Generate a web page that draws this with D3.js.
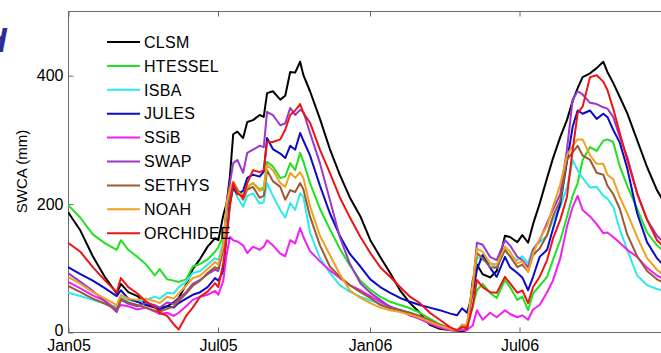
<!DOCTYPE html>
<html>
<head>
<meta charset="utf-8">
<script src="https://cdn.jsdelivr.net/npm/d3@7"></script>
<style>
  body { margin: 0; background: #fff; }
  svg { display: block; }
  text { font-family: "Liberation Sans", Arial, Helvetica, sans-serif; }
</style>
</head>
<body>
<svg id="chart" width="661" height="353"></svg>
<script>
// Sampling dates of the soil water content series
const dates = [
  "2005-01-01","2005-01-16","2005-01-31","2005-02-15","2005-03-01","2005-03-06","2005-03-15","2005-03-26","2005-04-05","2005-04-16",
  "2005-04-22","2005-05-01","2005-05-09","2005-05-15","2005-05-24","2005-06-01","2005-06-10","2005-06-19","2005-06-28","2005-07-02",
  "2005-07-08","2005-07-12","2005-07-16","2005-07-20","2005-07-25","2005-08-01","2005-08-06","2005-08-13","2005-08-21","2005-08-26",
  "2005-08-30","2005-09-06","2005-09-15","2005-09-21","2005-09-27","2005-10-03","2005-10-09","2005-10-13","2005-10-21","2005-11-02",
  "2005-11-14","2005-11-26","2005-12-08","2005-12-21","2006-01-02","2006-01-14","2006-01-26","2006-02-07","2006-02-19","2006-03-03",
  "2006-03-15","2006-03-27","2006-04-08","2006-04-17","2006-04-23","2006-04-29","2006-05-06","2006-05-11","2006-05-18","2006-05-27",
  "2006-06-04","2006-06-14","2006-06-20","2006-06-29","2006-07-05","2006-07-12","2006-07-18","2006-07-26","2006-08-04","2006-08-11",
  "2006-08-20","2006-08-28","2006-09-04","2006-09-10","2006-09-16","2006-09-25","2006-10-03","2006-10-11","2006-10-16","2006-10-23",
  "2006-10-31","2006-11-09","2006-11-21","2006-12-03","2006-12-15","2006-12-27"
];

// SWCA (mm) per land surface model
const CLSM = [
  187,158,118,85,60,75,62,56,44,39,
  37,40,46,53,74,98,114,133,146,143,
  182,200,242,308,312,302,327,330,338,335,
  372,375,362,368,405,404,421,400,375,332,
  285,245,210,180,143,117,92,65,45,30,
  11,5,3,2,1,3,80,105,90,85,
  95,150,148,140,151,139,168,200,240,270,
  304,330,360,380,397,403,411,421,405,388,
  366,341,299,257,221,195
];
const HTESSEL = [
  198,178,152,138,128,143,128,117,106,88,
  98,82,80,78,82,102,106,113,125,132,
  150,185,206,225,221,213,225,232,222,225,
  265,258,240,242,263,252,279,265,232,192,
  160,130,104,80,66,55,47,42,37,30,
  21,12,6,2,8,12,40,65,75,61,
  53,81,70,50,55,34,60,72,86,112,
  143,179,213,232,268,288,282,298,300,296,
  258,228,192,155,135,122
];
const ISBA = [
  61,56,50,44,39,55,50,47,50,55,
  52,61,60,70,78,92,95,105,115,112,
  140,190,215,226,210,195,212,216,200,202,
  232,212,190,178,201,190,216,210,155,115,
  92,73,63,55,49,44,39,35,30,23,
  16,9,5,2,12,8,60,117,112,107,
  100,128,118,112,118,107,130,140,150,175,
  195,225,268,252,240,225,226,212,208,195,
  160,128,88,73,67,63
];
const JULES = [
  101,90,80,68,56,65,52,47,42,38,
  35,40,38,45,52,58,62,70,84,80,
  95,150,200,225,215,220,240,245,242,250,
  302,285,278,271,290,284,310,298,275,228,
  185,150,122,102,82,70,61,53,47,42,
  38,34,29,26,37,30,60,97,120,100,
  86,117,101,92,85,65,86,117,128,160,
  200,265,320,345,340,345,332,340,335,315,
  295,255,185,140,115,98
];
const SSiB = [
  78,68,57,48,35,42,40,35,38,32,
  28,30,25,30,40,50,55,58,64,58,
  80,120,148,143,141,135,123,133,128,133,
  143,135,122,118,143,138,162,148,126,110,
  96,84,73,65,56,47,40,33,26,20,
  13,7,3,2,3,3,10,34,19,30,
  23,34,28,23,26,19,35,42,62,80,
  115,164,195,212,190,180,168,154,155,148,
  139,128,117,100,88,80
];
const SWAP = [
  92,78,64,48,31,50,44,40,45,42,
  38,46,44,52,62,75,81,90,97,95,
  130,200,232,263,268,248,279,284,290,288,
  343,338,322,325,349,338,346,343,310,263,
  206,148,107,76,61,50,39,34,26,22,
  16,11,6,3,8,10,70,139,136,117,
  112,143,135,117,112,101,128,143,170,190,
  215,284,362,375,370,357,355,350,348,335,
  304,273,216,175,150,135
];
const SETHYS = [
  72,62,52,44,35,52,46,42,38,33,
  32,36,40,48,60,72,80,92,101,98,
  130,190,215,234,222,206,222,226,209,212,
  252,235,226,206,221,218,232,222,180,135,
  102,86,73,62,53,42,37,34,30,25,
  18,11,5,2,10,8,65,123,115,101,
  100,128,118,101,105,94,120,130,151,180,
  205,268,280,290,275,268,248,245,228,215,
  192,152,118,95,82,74
];
const NOAH = [
  86,75,62,52,42,58,52,50,52,48,
  45,55,52,60,72,84,88,98,109,105,
  135,200,222,234,218,212,226,232,220,222,
  260,252,232,226,248,240,249,240,196,150,
  120,90,65,53,45,38,34,31,27,22,
  16,10,5,2,10,12,75,130,125,107,
  105,133,125,107,110,94,123,145,165,195,
  230,275,290,300,300,275,262,262,245,238,
  210,185,148,115,97,85
];
const ORCHIDEE = [
  139,125,101,80,62,84,70,60,48,39,
  30,25,12,4,25,38,55,63,76,70,
  107,148,195,232,216,210,232,252,249,252,
  296,296,300,315,338,345,355,341,326,284,
  248,210,179,148,123,101,86,70,55,45,
  30,19,8,2,8,5,40,81,70,62,
  61,86,76,61,65,45,70,86,112,145,
  175,210,284,341,351,397,400,390,377,348,
  310,268,216,175,143,128
];

const seriesNames  = ["CLSM","HTESSEL","ISBA","JULES","SSiB","SWAP","SETHYS","NOAH","ORCHIDEE"];
const seriesValues = [CLSM, HTESSEL, ISBA, JULES, SSiB, SWAP, SETHYS, NOAH, ORCHIDEE];
const seriesColors = ["#000000","#22e022","#2ee8ea","#0a0ac8","#f21ef2","#9b38cc","#9a5a32","#f2a020","#ee1414"];

const yTicks = [0, 200, 400];
const xTickDates  = ["2005-01-01","2005-07-01","2006-01-01","2006-07-01"];
const xTickLabels = ["Jan05","Jul05","Jan06","Jul06"];
const yLabel = "SWCA (mm)";
const panelTag = "d";

const parse = d3.utcParse("%Y-%m-%d");
const svg = d3.select("#chart");

const plotL = 68, plotT = 11, plotB = 332, plotR = 671;

const x = d3.scaleUtc()
  .domain([parse("2005-01-01"), parse("2007-01-01")])
  .range([plotL, plotR]);
const y = d3.scaleLinear().domain([0, 500]).range([plotB, plotT]);

// clipping region for the data lines
svg.append("defs").append("clipPath").attr("id", "plotClip")
  .append("rect").attr("x", plotL).attr("y", plotT)
  .attr("width", plotR - plotL).attr("height", plotB - plotT);

// frame
const frame = svg.append("g").attr("stroke", "#6a6a6a").attr("stroke-width", 1).attr("fill", "none");
frame.append("line").attr("x1", plotL + 0.5).attr("x2", plotL + 0.5).attr("y1", plotT).attr("y2", plotB);
frame.append("line").attr("x1", plotL).attr("x2", plotR).attr("y1", plotT + 0.5).attr("y2", plotT + 0.5);
frame.append("line").attr("x1", plotL).attr("x2", plotR).attr("y1", plotB + 0.5).attr("y2", plotB + 0.5);

// bottom axis with inward ticks
const xAxis = d3.axisBottom(x)
  .tickValues(xTickDates.map(parse))
  .tickFormat((d, i) => xTickLabels[i])
  .tickSizeInner(-5).tickSizeOuter(0).tickPadding(7);
const gx = svg.append("g").attr("transform", `translate(0.5,${plotB + 0.5})`).call(xAxis);
gx.select(".domain").remove();
gx.selectAll("line").attr("stroke", "#6a6a6a");
gx.selectAll("text").attr("font-size", 16).attr("fill", "#000").attr("font-family", null);

// mirrored ticks along the top edge
const gxt = svg.append("g").attr("transform", `translate(0.5,${plotT + 0.5})`)
  .call(d3.axisTop(x).tickValues(xTickDates.map(parse)).tickFormat("").tickSizeInner(-5).tickSizeOuter(0));
gxt.select(".domain").remove();
gxt.selectAll("line").attr("stroke", "#6a6a6a");

// left axis with inward ticks
const yAxis = d3.axisLeft(y).tickValues(yTicks).tickFormat(d3.format("d"))
  .tickSizeInner(-5).tickSizeOuter(0).tickPadding(5);
const gy = svg.append("g").attr("transform", `translate(${plotL + 0.5},0.5)`).call(yAxis);
gy.select(".domain").remove();
gy.selectAll("line").attr("stroke", "#6a6a6a");
gy.selectAll("text").attr("font-size", 16).attr("fill", "#000").attr("font-family", null);
// lift the zero label a little so it clears the date labels
gy.selectAll(".tick").filter(d => d === 0).select("text").attr("dy", "0.2em");

// axis title
svg.append("text")
  .attr("transform", `translate(27,${(plotT + plotB) / 2}) rotate(-90)`)
  .attr("text-anchor", "middle")
  .attr("font-size", 15)
  .text(yLabel);

// panel tag, partly outside the page edge
svg.append("text")
  .attr("x", -14).attr("y", 52)
  .attr("font-size", 34).attr("font-weight", "bold").attr("font-style", "italic")
  .attr("fill", "#2c2c96")
  .text(panelTag);

// model series
const line = d3.line()
  .x((d, i) => x(parse(dates[i])))
  .y(d => y(d));

const plot = svg.append("g").attr("clip-path", "url(#plotClip)");
seriesValues.forEach((vals, k) => {
  plot.append("path")
    .datum(vals)
    .attr("fill", "none")
    .attr("stroke", seriesColors[k])
    .attr("stroke-width", 2)
    .attr("stroke-linejoin", "round")
    .attr("d", line);
});

// legend
const legend = svg.append("g");
seriesNames.forEach((name, k) => {
  const ly = 42 + k * 23.9;
  legend.append("line")
    .attr("x1", 107).attr("x2", 140).attr("y1", ly).attr("y2", ly)
    .attr("stroke", seriesColors[k]).attr("stroke-width", 2);
  legend.append("text")
    .attr("x", 144).attr("y", ly).attr("dy", "0.36em")
    .attr("font-size", 16).attr("letter-spacing", "0.3px")
    .text(name);
});
</script>
</body>
</html>
